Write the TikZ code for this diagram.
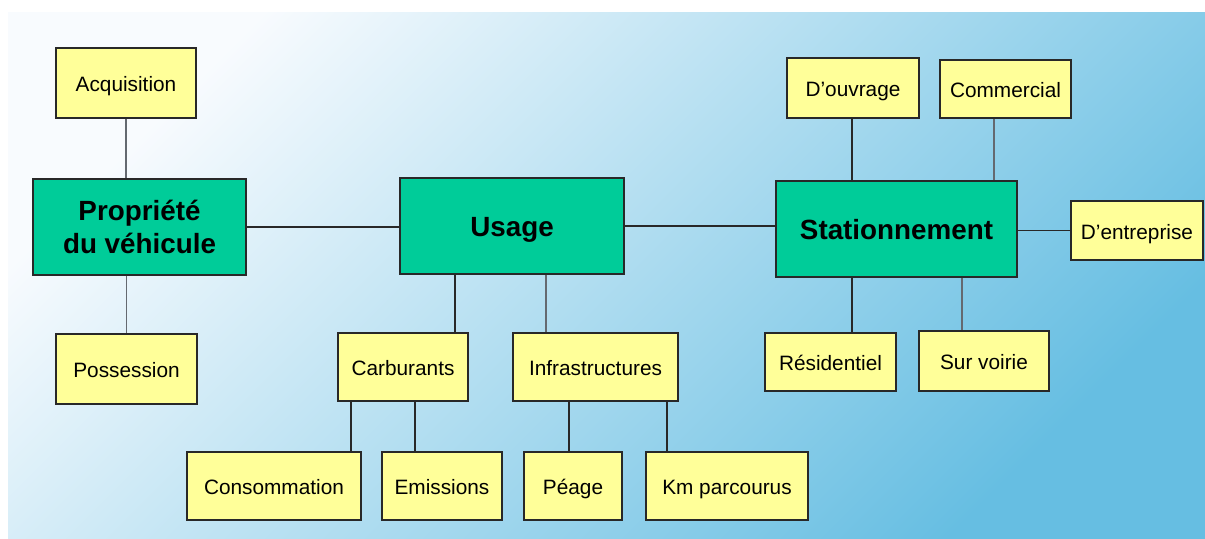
\documentclass[tikz,border=0pt]{standalone}
\usepackage{fontspec}
\setmainfont{Liberation Sans}
\usepackage{tikz}
\definecolor{boxgreen}{RGB}{0,204,153}
\definecolor{boxyellow}{RGB}{255,255,153}
\definecolor{bgtop}{RGB}{248,251,254}
\definecolor{bgbottom}{RGB}{102,190,226}
\definecolor{linedark}{RGB}{40,40,40}
\definecolor{linegray}{RGB}{100,105,112}

\begin{document}
\begin{tikzpicture}[x=0.5pt, y=-0.5pt,
        mainbox/.style={draw=linedark, line width=0.75pt, fill=boxgreen, align=center,
            inner sep=0pt, font={\fontsize{13.9}{16.5}\selectfont\bfseries}},
        mainline/.style={mainbox, text height=13pt, text depth=2.3pt},
        subbox/.style={draw=linedark, line width=0.75pt, fill=boxyellow, align=center,
            inner sep=0pt, text height=10.5pt, text depth=1.8pt,
            font={\fontsize{10.4}{12.5}\selectfont}},
        link/.style={draw=linedark, line width=0.65pt},
        glink/.style={draw=linegray, line width=0.7pt}]
    \useasboundingbox (0,0) rectangle (1205,538);
    \shade[top color=bgtop, bottom color=bgbottom, shading angle=45] (8,12) rectangle (1205,538);

    % main boxes
    \node[mainbox, minimum width=106.5pt, minimum height=48pt] (prop) at (139.5,227) {Propriété\\du véhicule};
    \node[mainline, minimum width=112pt, minimum height=48pt] (usage) at (512,226) {Usage};
    \node[mainline, minimum width=120.5pt, minimum height=48pt] (stat) at (896.5,229) {Stationnement};

    % propriete
    \node[subbox, minimum width=70pt, minimum height=35pt] (acq) at (126,83) {Acquisition};
    \node[subbox, minimum width=70.5pt, minimum height=35pt] (poss) at (126.5,369) {Possession};

    % usage
    \node[subbox, minimum width=65pt, minimum height=34pt] (carb) at (403,367) {Carburants};
    \node[subbox, minimum width=82.5pt, minimum height=34pt] (infra) at (595.5,367) {Infrastructures};
    \node[subbox, minimum width=87pt, minimum height=34pt] (conso) at (274,486) {Consommation};
    \node[subbox, minimum width=60pt, minimum height=34pt] (emis) at (442,486) {Emissions};
    \node[subbox, minimum width=49pt, minimum height=34pt] (peage) at (573,486) {Péage};
    \node[subbox, minimum width=81pt, minimum height=34pt] (km) at (727,486) {Km parcourus};

    % stationnement
    \node[subbox, minimum width=66pt, minimum height=30pt] (ouvr) at (853,88) {D’ouvrage};
    \node[subbox, minimum width=65.5pt, minimum height=29pt] (comm) at (1005.5,89) {Commercial};
    \node[subbox, minimum width=66pt, minimum height=29.5pt] (entr) at (1137,230.5) {D’entreprise};
    \node[subbox, minimum width=65.5pt, minimum height=29pt] (resid) at (830.5,362) {Résidentiel};
    \node[subbox, minimum width=65pt, minimum height=30pt] (voirie) at (984,361) {Sur voirie};

    % connectors
    \draw[glink] (acq.south) -- (acq.south |- prop.north);
    \draw[glink] (prop.south -| poss.north) -- (poss.north);
    \draw[link] (prop.east) -- (prop.east -| usage.west);
    \draw[link] (usage.east) -- (usage.east -| stat.west);
    \draw[link] (usage.south -| 455,0) -- (carb.north -| 455,0);
    \draw[glink] (usage.south -| 546,0) -- (infra.north -| 546,0);
    \draw[link] (carb.south -| 351,0) -- (conso.north -| 351,0);
    \draw[link] (carb.south -| 415,0) -- (emis.north -| 415,0);
    \draw[link] (infra.south -| 569,0) -- (peage.north -| 569,0);
    \draw[link] (infra.south -| 667,0) -- (km.north -| 667,0);
    \draw[link] (ouvr.south -| 852,0) -- (stat.north -| 852,0);
    \draw[glink] (comm.south -| 994,0) -- (stat.north -| 994,0);
    \draw[link] (stat.east |- entr.west) -- (entr.west);
    \draw[link] (stat.south -| 852,0) -- (resid.north -| 852,0);
    \draw[glink] (stat.south -| 962,0) -- (voirie.north -| 962,0);
\end{tikzpicture}
\end{document}
